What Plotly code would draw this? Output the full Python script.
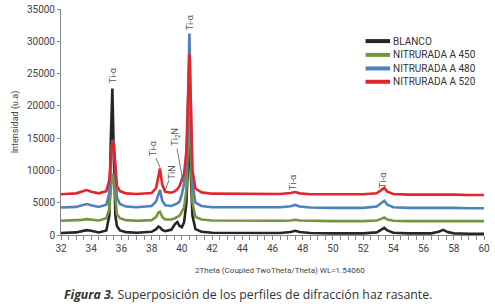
import plotly.graph_objects as go

two_theta = [32, 33, 33.4, 33.7, 34, 34.5, 35.0, 35.2, 35.3, 35.4, 35.5, 35.6, 35.7, 35.9, 36.3, 37,
             38.0, 38.3, 38.45, 38.55, 38.7, 38.9, 39.3, 39.55, 39.7, 39.85, 40.0, 40.15, 40.3, 40.4,
             40.5, 40.6, 40.7, 40.9, 41.3, 42, 44, 46.5, 47.2, 47.5, 47.8, 48.5, 50, 52, 52.9, 53.2,
             53.4, 53.6, 54, 55, 56.5, 57.0, 57.3, 57.6, 58, 59, 60]

blanco = [300, 400, 600, 750, 650, 400, 700, 3000, 15000, 22700, 12000, 3000, 1400, 700, 450, 350,
          500, 900, 1300, 1200, 800, 600, 800, 1700, 2000, 1400, 1200, 2000, 5000, 10000,
          16000, 9000, 3000, 900, 500, 350, 300, 300, 450, 650, 450, 300, 250, 250, 400, 900,
          1100, 700, 350, 250, 250, 500, 800, 450, 250, 200, 200]

nit_450 = [2200, 2250, 2350, 2450, 2350, 2250, 2600, 4000, 7000, 9500, 8500, 5000, 3200, 2600, 2300, 2200,
           2300, 2800, 3500, 3600, 2800, 2400, 2400, 2600, 2800, 3000, 3600, 4300, 7000, 14000,
           20000, 12000, 5000, 2800, 2400, 2250, 2200, 2200, 2250, 2350, 2250, 2200, 2150, 2150, 2250, 2500,
           2700, 2400, 2200, 2150, 2150, 2200, 2250, 2200, 2150, 2150, 2150]

nit_480 = [4250, 4350, 4600, 4800, 4600, 4350, 4700, 6500, 11000, 14700, 14000, 9000, 5800, 4800, 4400, 4300,
           4500, 5200, 6500, 7000, 5300, 4600, 4500, 4700, 4900, 5200, 6300, 8000, 11000, 20000,
           31200, 19000, 8000, 5000, 4500, 4300, 4250, 4300, 4450, 4650, 4400, 4250, 4200, 4200, 4400, 4900,
           5300, 4700, 4300, 4200, 4200, 4250, 4300, 4250, 4200, 4150, 4150]

nit_520 = [6300, 6450, 6750, 6950, 6700, 6450, 6800, 8500, 12000, 14500, 14000, 10000, 7600, 6800, 6450, 6350,
           6500, 7300, 9500, 10300, 7800, 6700, 6550, 6800, 7100, 7600, 8600, 9500, 13000, 22000,
           28000, 20000, 10000, 7200, 6600, 6400, 6350, 6350, 6500, 6650, 6450, 6300, 6300, 6300, 6450, 6900,
           7300, 6700, 6350, 6250, 6250, 6300, 6350, 6300, 6250, 6200, 6200]

series_names = ["BLANCO", "NITRURADA A 450", "NITRURADA A 480", "NITRURADA A 520"]
series_values = [blanco, nit_450, nit_480, nit_520]
colors = ["#262626", "#77933C", "#4F81BD", "#E3262C"]

x_ticks = [32, 34, 36, 38, 40, 42, 44, 46, 48, 50, 52, 54, 56, 58, 60]
y_ticks = [0, 5000, 10000, 15000, 20000, 25000, 30000, 35000]
y_tick_labels = ["0", "5000", "10000", "15000", "20000", "25000", "30000", "35000"]

# phase labels: (text, x, y)
labels = [("Ti-α", 35.4, 24800), ("Ti-α", 40.5, 33000), ("Ti-α", 38.05, 13500),
          ("TiN", 39.35, 9700), ("Ti<sub>2</sub>N", 39.6, 15200),
          ("Ti-α", 47.35, 8200), ("Ti-α", 53.3, 8500)]
# leader lines: (x0, y0, x1, y1)
leaders = [(38.29, 11900, 38.56, 10400), (39.15, 8500, 38.9, 7000), (39.68, 13400, 40.08, 8200)]

fig = go.Figure()
for name, vals, c in zip(series_names, series_values, colors):
    fig.add_trace(go.Scatter(x=two_theta, y=vals, mode="lines", name=name, showlegend=False,
                             line=dict(color=c, width=2.6)))

# legend drawn as line samples + text (compact spacing as in the reference)
leg_y = [0.858, 0.797, 0.737, 0.678]
for name, c, ly in zip(series_names, colors, leg_y):
    fig.add_shape(type="line", xref="paper", yref="paper", x0=0.72, x1=0.778, y0=ly, y1=ly,
                  line=dict(color=c, width=4))
    fig.add_annotation(xref="paper", yref="paper", x=0.781, y=ly, text=name, showarrow=False,
                       xanchor="left", yanchor="middle",
                       font=dict(family="Roboto", size=10, color="#333333"))

for t, x, y in labels:
    fig.add_annotation(x=x, y=y, text=t, showarrow=False, textangle=-90,
                       font=dict(family="Roboto", size=9, color="#555555"))
for x0, y0, x1, y1 in leaders:
    fig.add_shape(type="line", x0=x0, y0=y0, x1=x1, y1=y1,
                  line=dict(color="#555555", width=0.8))

fig.add_annotation(xref="paper", yref="paper", x=0.518, y=-0.155, text="2Theta (Coupled TwoTheta/Theta) WL=1.54060",
                   showarrow=False, font=dict(family="Roboto", size=8, color="#444444"),
                   xanchor="center", yanchor="middle")
fig.add_annotation(xref="paper", yref="paper", x=0.442, y=-0.265,
                   text="<b><i>Figura 3.</i></b> Superposición de los perfiles de difracción haz rasante.",
                   showarrow=False, font=dict(family="Open Sans", size=12.3, color="#333333"),
                   xanchor="center", yanchor="middle")

fig.update_layout(
    width=495, height=307,
    margin=dict(l=61, r=11, t=9, b=72, autoexpand=False),
    paper_bgcolor="white", plot_bgcolor="white",
    font=dict(family="Roboto", size=10, color="#444444"),
    showlegend=False,
)
fig.update_xaxes(range=[32, 60], tickvals=x_ticks, showgrid=False, zeroline=False, automargin=False,
                 showline=True, linecolor="#888888", linewidth=1, ticks="outside", ticklen=4,
                 tickcolor="#888888", tickfont=dict(family="Roboto", size=10, color="#444444"),
                 minor=dict(dtick=0.5, ticks="outside", ticklen=4, tickcolor="#888888"))
fig.update_yaxes(range=[0, 35000], tickvals=y_ticks, ticktext=y_tick_labels, showgrid=False, zeroline=False,
                 automargin=False,
                 showline=True, linecolor="#888888", linewidth=1, ticks="outside", ticklen=3,
                 tickcolor="#888888", tickfont=dict(family="Roboto", size=10, color="#444444"),
                 title=dict(text="Intensidad (u.a)", font=dict(family="Roboto", size=9, color="#444444"),
                            standoff=6))

fig.write_html("out.html", config={"displayModeBar": False},
               post_script="document.body.style.margin='0';")
